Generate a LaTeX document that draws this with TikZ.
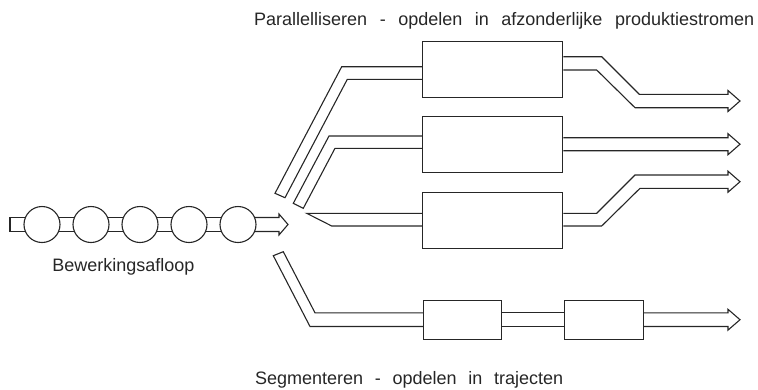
\documentclass[tikz,border=0pt]{standalone}
\usepackage{fontspec}
\setmainfont{Liberation Sans}
\begin{document}
\begin{tikzpicture}[x=1pt,y=-1pt,
  ln/.style={line width=1.1pt, draw=black!85, line join=miter},
  proc/.style={ln, rectangle, fill=white, inner sep=0pt},
  stage/.style={ln, circle, fill=white, inner sep=0pt, minimum size=36pt},
  lbl/.style={inner sep=0pt, font=\fontsize{18}{21}\selectfont, text=black!85}]
\useasboundingbox (0,0) rectangle (758,389);

% ---- processing chain on the left ----
\coordinate (in) at (10,224.5);
\coordinate (s1) at (42,224.5);
\coordinate (s2) at (91,224.5);
\coordinate (s3) at (140,224.5);
\coordinate (s4) at (189,224.5);
\coordinate (s5) at (238,224.5);

% bars linking the stages (hidden ends sit under the circles)
\draw[ln] ([yshift=7pt]in) rectangle ([yshift=-7pt]s1);
\draw[ln] ([yshift=7pt]s1) rectangle ([yshift=-7pt]s2);
\draw[ln] ([yshift=7pt]s2) rectangle ([yshift=-7pt]s3);
\draw[ln] ([yshift=7pt]s3) rectangle ([yshift=-7pt]s4);
\draw[ln] ([yshift=7pt]s4) rectangle ([yshift=-7pt]s5);
% outgoing arrow of the chain
\draw[ln] (s5 |- 0,217.5) -- (279,217.5) -- (279,214) -- (288,224.5)
          -- (279,235) -- (279,231.5) -- (s5 |- 0,231.5);

\node[stage] (c1) at (s1) {};
\node[stage] (c2) at (s2) {};
\node[stage] (c3) at (s3) {};
\node[stage] (c4) at (s4) {};
\node[stage] (c5) at (s5) {};

\node[lbl, anchor=base] (chainlbl) at (123.3,271.7) {Bewerkingsafloop};

% ---- parallel streams ----
\node[proc, minimum width=140pt, minimum height=56pt] (b1) at (492.7,69.5) {};
\node[proc, minimum width=140pt, minimum height=56pt] (b2) at (492.7,144.7) {};
\node[proc, minimum width=140pt, minimum height=56pt] (b3) at (492.7,220.3) {};

% incoming channels
\draw[ln] (b1.west |- 0,66.7) -- (341.7,66.7) -- (275,193.3) -- (285,197.7)
          -- (347.3,79.3) -- (b1.west |- 0,79.3);
\draw[ln] (b2.west |- 0,136) -- (329,136) -- (293.3,203.3) -- (303.3,208.3)
          -- (335,148.3) -- (b2.west |- 0,148.3);
\draw[ln] (b3.west |- 0,213.3) -- (306.7,213.3) -- (331.7,226) -- (b3.west |- 0,226);

% outgoing arrows
\draw[ln] (b1.east |- 0,56.7) -- (601.7,56.7) -- (639.3,94.3) -- (728,94.3)
          -- (728,90.5) -- (740,101) -- (728,111.5) -- (728,107.7)
          -- (635,107.7) -- (596.7,70) -- (b1.east |- 0,70);
\draw[ln] (b2.east |- 0,137.7) -- (728,137.7) -- (728,133.7) -- (740,144.2)
          -- (728,154.7) -- (728,150.7) -- (b2.east |- 0,150.7);
\draw[ln] (b3.east |- 0,213.3) -- (596.7,213.3) -- (635,175) -- (728,175)
          -- (728,171.2) -- (740,181.7) -- (728,192.2) -- (728,188.3)
          -- (640,188.3) -- (601.7,226) -- (b3.east |- 0,226);

% ---- segmented stream ----
\node[proc, minimum width=78.4pt, minimum height=38.6pt] (b4) at (462.5,320) {};
\node[proc, minimum width=79pt, minimum height=38.6pt] (b5) at (603.8,320) {};

\draw[ln] (b4.west |- 0,312.8) -- (315,312.8) -- (283.3,251.7) -- (273.3,255.7)
          -- (310,326.5) -- (b4.west |- 0,326.5);
\draw[ln] (b4.east |- 0,312.8) -- (b5.west |- 0,312.8);
\draw[ln] (b4.east |- 0,326.5) -- (b5.west |- 0,326.5);
\draw[ln] (b5.east |- 0,312.8) -- (728,312.8) -- (728,309.3) -- (740,319.7)
          -- (728,330.1) -- (728,326.5) -- (b5.east |- 0,326.5);

% ---- captions ----
\node[lbl, anchor=base west] (ptitle) at (254,25)
  {\makebox[500pt][s]{Parallelliseren - opdelen in afzonderlijke produktiestromen}};
\node[lbl, anchor=base west] (stitle) at (255,384.3)
  {\makebox[308pt][s]{Segmenteren - opdelen in trajecten}};
\end{tikzpicture}
\end{document}
